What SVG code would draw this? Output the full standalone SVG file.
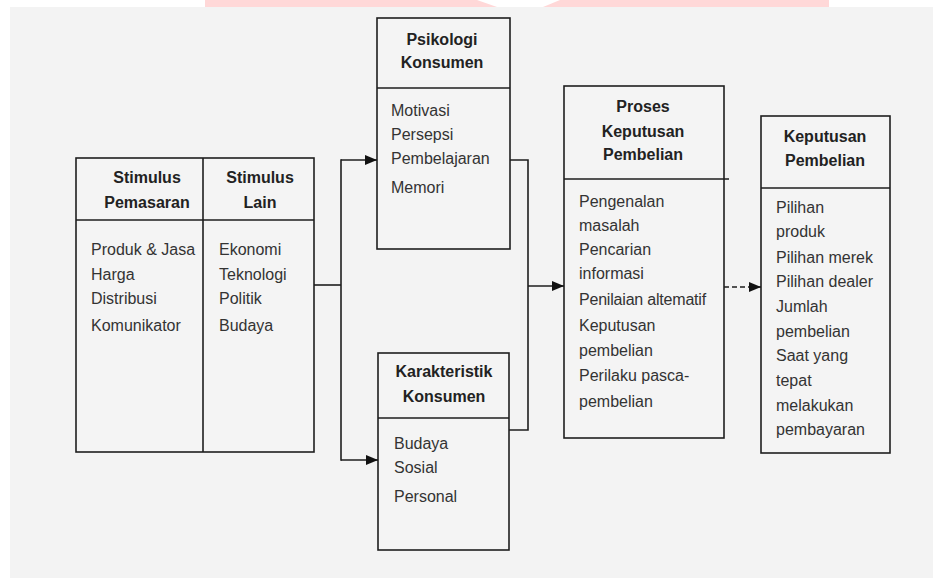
<svg xmlns="http://www.w3.org/2000/svg" width="933" height="578" viewBox="0 0 933 578">
<style>
.box{fill:#f4f4f4;stroke:#1e1e1e;stroke-width:1.6}
.sep{stroke:#1e1e1e;stroke-width:1.6;fill:none}
.t{font-family:"Liberation Sans",Arial,sans-serif;font-size:16px;font-weight:bold;fill:#222;text-anchor:middle}
.b{font-family:"Liberation Sans",Arial,sans-serif;font-size:16px;fill:#333}
.c{stroke:#1e1e1e;stroke-width:1.6;fill:none}
</style>
<defs>
<marker id="ah" viewBox="0 0 12 10" refX="12" refY="5" markerWidth="12" markerHeight="10" markerUnits="userSpaceOnUse" orient="auto">
<path d="M0,0 L12,5 L0,10 Z" fill="#111"/>
</marker>
</defs>
<rect x="0" y="0" width="933" height="578" fill="#ffffff"/>
<rect x="10" y="7" width="923" height="571" fill="#f3f3f3"/>
<rect x="205" y="0" width="624" height="7" fill="#ffd8d8"/>
<polygon points="477,0 560,0 543,7 497,7" fill="#ffffff"/>

<g id="stimulus">
<rect class="box" x="76" y="158" width="238" height="294"/>
<line class="sep" x1="203" y1="158" x2="203" y2="452"/>
<line class="sep" x1="76" y1="220" x2="314" y2="220"/>
<text class="t" x="147" y="183">Stimulus</text>
<text class="t" x="147" y="208">Pemasaran</text>
<text class="t" x="260" y="183">Stimulus</text>
<text class="t" x="260" y="208">Lain</text>
<text class="b" x="91" y="255">Produk &amp; Jasa</text>
<text class="b" x="91" y="280">Harga</text>
<text class="b" x="91" y="304">Distribusi</text>
<text class="b" x="91" y="331">Komunikator</text>
<text class="b" x="219" y="255">Ekonomi</text>
<text class="b" x="219" y="280">Teknologi</text>
<text class="b" x="219" y="304">Politik</text>
<text class="b" x="219" y="331">Budaya</text>
</g>

<g id="psikologi">
<rect class="box" x="377" y="18" width="133" height="231"/>
<line class="sep" x1="377" y1="88" x2="510" y2="88"/>
<text class="t" x="442" y="45">Psikologi</text>
<text class="t" x="442" y="68">Konsumen</text>
<text class="b" x="391" y="116">Motivasi</text>
<text class="b" x="391" y="140">Persepsi</text>
<text class="b" x="391" y="164">Pembelajaran</text>
<text class="b" x="391" y="193">Memori</text>
</g>

<g id="karakteristik">
<rect class="box" x="378" y="353" width="131" height="197"/>
<line class="sep" x1="378" y1="418" x2="509" y2="418"/>
<text class="t" x="444" y="377">Karakteristik</text>
<text class="t" x="444" y="402">Konsumen</text>
<text class="b" x="394" y="449">Budaya</text>
<text class="b" x="394" y="473">Sosial</text>
<text class="b" x="394" y="502">Personal</text>
</g>

<g id="proses">
<rect class="box" x="564" y="86" width="160" height="352"/>
<line class="sep" x1="564" y1="179" x2="729" y2="179"/>
<text class="t" x="643" y="112">Proses</text>
<text class="t" x="643" y="137">Keputusan</text>
<text class="t" x="643" y="160">Pembelian</text>
<text class="b" x="579" y="207">Pengenalan</text>
<text class="b" x="579" y="231">masalah</text>
<text class="b" x="579" y="255">Pencarian</text>
<text class="b" x="579" y="279">informasi</text>
<text class="b" x="579" y="305" letter-spacing="-0.2">Penilaian altematif</text>
<text class="b" x="579" y="331">Keputusan</text>
<text class="b" x="579" y="356">pembelian</text>
<text class="b" x="579" y="381">Perilaku pasca-</text>
<text class="b" x="579" y="407">pembelian</text>
</g>

<g id="keputusan">
<rect class="box" x="761" y="116" width="129" height="337"/>
<line class="sep" x1="761" y1="188" x2="890" y2="188"/>
<text class="t" x="825" y="142">Keputusan</text>
<text class="t" x="825" y="166">Pembelian</text>
<text class="b" x="776" y="213">Pilihan</text>
<text class="b" x="776" y="237">produk</text>
<text class="b" x="776" y="263">Pilihan merek</text>
<text class="b" x="776" y="287">Pilihan dealer</text>
<text class="b" x="776" y="312">Jumlah</text>
<text class="b" x="776" y="337">pembelian</text>
<text class="b" x="776" y="361">Saat yang</text>
<text class="b" x="776" y="386">tepat</text>
<text class="b" x="776" y="411">melakukan</text>
<text class="b" x="776" y="435">pembayaran</text>
</g>

<g id="connectors">
<line class="c" x1="314" y1="285" x2="341" y2="285"/>
<line class="c" x1="341" y1="159.2" x2="341" y2="460.8"/>
<line class="c" x1="341" y1="160" x2="377" y2="160" marker-end="url(#ah)"/>
<line class="c" x1="341" y1="460" x2="378" y2="460" marker-end="url(#ah)"/>
<polyline class="c" points="510,160 528,160 528,430 509,430"/>
<line class="c" x1="528" y1="286" x2="564" y2="286" marker-end="url(#ah)"/>
<line class="c" x1="724" y1="287" x2="761" y2="287" stroke-dasharray="5 3" marker-end="url(#ah)"/>
</g>
</svg>
